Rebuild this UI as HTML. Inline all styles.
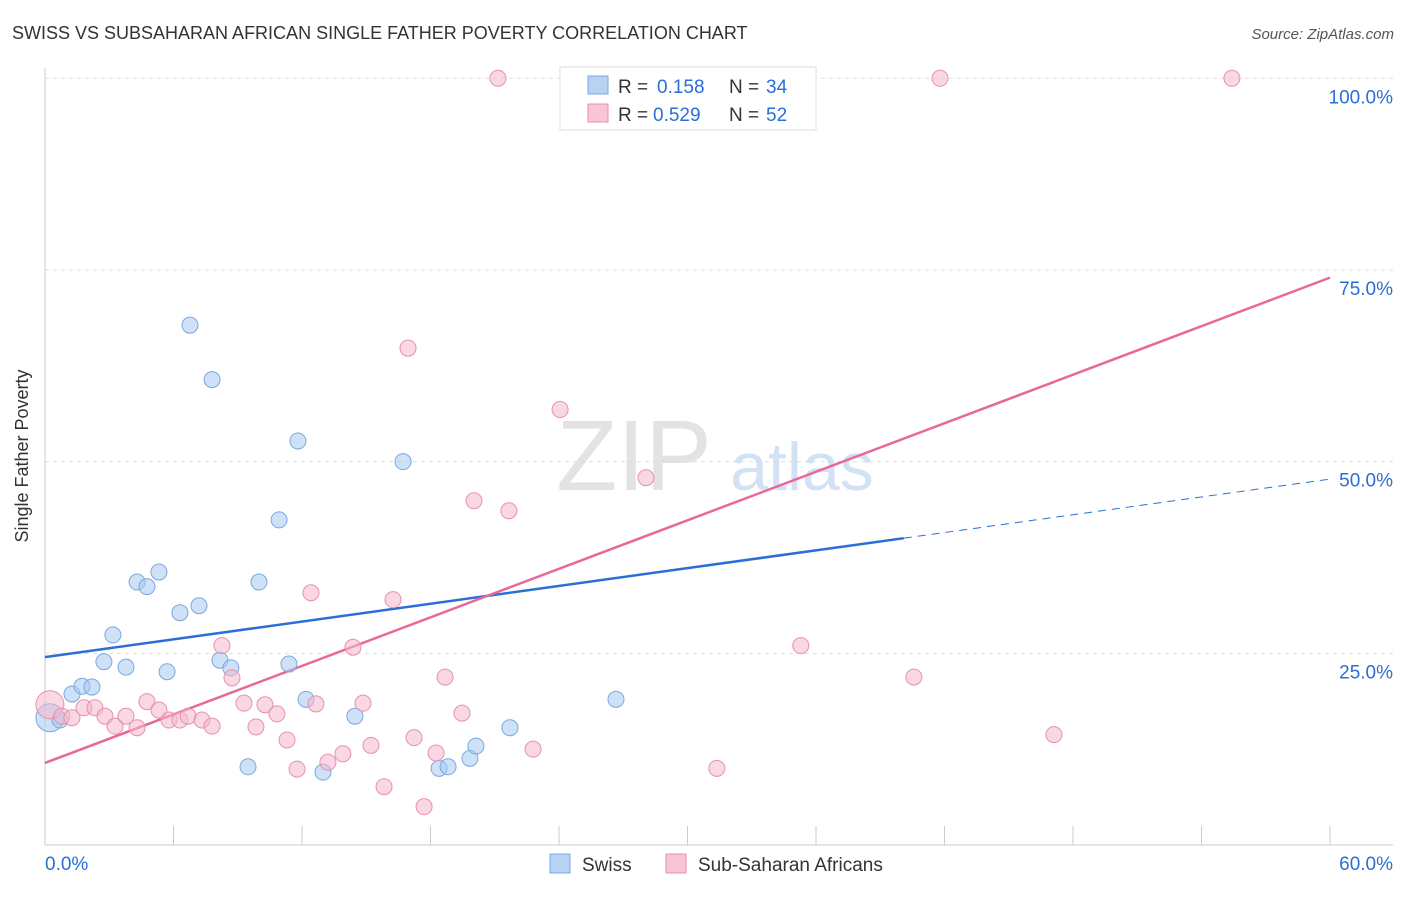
<!DOCTYPE html>
<html><head><meta charset="utf-8"><style>
body{margin:0;background:#fff;font-family:"Liberation Sans",sans-serif;}
svg text{font-family:"Liberation Sans",sans-serif;}
</style></head><body>
<svg width="1406" height="892" xmlns="http://www.w3.org/2000/svg">
<text x="12" y="39" font-size="18" fill="#333">SWISS VS SUBSAHARAN AFRICAN SINGLE FATHER POVERTY CORRELATION CHART</text>
<text x="1394" y="39" font-size="15" fill="#555" font-style="italic" text-anchor="end">Source: ZipAtlas.com</text>
<g><text x="634" y="490" font-size="100" fill="#ddd" font-family="Liberation Serif" text-anchor="middle" opacity="0.8">ZIP</text><text x="802" y="490" font-size="68" fill="#c8dcf2" text-anchor="middle" opacity="0.8">atlas</text></g>
<g id="grid"></g><g id="axes"></g><g id="trends"></g><g id="pts"></g>
<text x="28" y="456" font-size="18" fill="#333" text-anchor="middle" transform="rotate(-90 28 456)">Single Father Poverty</text>
<g>
<rect x="560" y="67" width="256" height="63" fill="#fff" stroke="#ddd"/>
<rect x="588" y="76" width="20" height="18" fill="#b8d2f4" stroke="#7aa8e0"/>
<rect x="588" y="104" width="20" height="18" fill="#f8c4d6" stroke="#e890b0"/>
<text x="618" y="93" font-size="19" fill="#333">R =</text>
<text x="657" y="93" font-size="19" fill="#2a6fd6">0.158</text>
<text x="729" y="93" font-size="19" fill="#333">N =</text>
<text x="766" y="93" font-size="19" fill="#2a6fd6">34</text>
<text x="618" y="121" font-size="19" fill="#333">R =</text>
<text x="653" y="121" font-size="19" fill="#2a6fd6">0.529</text>
<text x="729" y="121" font-size="19" fill="#333">N =</text>
<text x="766" y="121" font-size="19" fill="#2a6fd6">52</text>
</g>
<g>
<rect x="550" y="854" width="20" height="19" fill="#b8d2f4" stroke="#7aa8e0"/>
<text x="582" y="871" font-size="19" fill="#333">Swiss</text>
<rect x="666" y="854" width="20" height="19" fill="#f8c4d6" stroke="#e890b0"/>
<text x="698" y="871" font-size="19" fill="#333">Sub-Saharan Africans</text>
</g>
</svg>
<script>
const yTicks=[25,50,75,100];
const yTickLabels=["25.0%","50.0%","75.0%","100.0%"];
const xEndLabels=["0.0%","60.0%"];
const swissX=[0.23,0.70,1.26,1.73,2.19,2.75,3.17,3.78,4.30,4.76,5.32,5.70,6.30,6.77,7.19,7.80,8.17,8.68,9.48,9.99,10.93,11.39,11.81,12.19,12.98,14.47,16.72,18.40,18.82,19.84,20.12,21.71,26.66];
const swissY=[16.6,16.3,19.7,20.7,20.6,23.9,27.4,23.2,34.3,33.7,35.6,22.6,30.3,67.8,31.2,60.7,24.1,23.1,10.2,34.3,42.4,23.6,52.7,19.0,9.5,16.8,50.0,10.0,10.2,11.3,12.9,15.3,19.0];
const ssaX=[0.23,0.79,1.26,1.82,2.33,2.80,3.27,3.78,4.30,4.76,5.32,5.79,6.30,6.68,7.33,7.80,8.26,8.73,9.29,9.85,10.27,10.83,11.30,11.77,12.42,12.65,13.21,13.91,14.38,14.85,15.22,15.83,16.25,16.95,17.23,17.70,18.26,18.68,19.47,20.03,21.15,21.66,22.79,24.05,28.06,31.37,35.29,40.57,41.79,47.11,55.42];
const ssaY=[18.3,16.8,16.6,17.9,17.9,16.8,15.5,16.8,15.3,18.7,17.6,16.3,16.3,16.8,16.3,15.5,26.0,21.8,18.5,15.4,18.3,17.1,13.7,9.9,32.9,18.4,10.8,11.9,25.8,18.5,13.0,7.6,32.0,64.8,14.0,5.0,12.0,21.9,17.2,44.9,100,43.6,12.5,56.8,47.9,10.0,26.0,21.9,100,14.4,100];
const swissTrend=[24.5,0.387,40.1];
const ssaTrend=[10.7,1.055];
const NS="http://www.w3.org/2000/svg";
const X=v=>45+v/60*1285, Y=v=>845-v/100*766.7;
function mk(t,a,p){const e=document.createElementNS(NS,t);for(const k in a)e.setAttribute(k,a[k]);p.appendChild(e);return e;}
const grid=document.getElementById('grid'),axes=document.getElementById('axes'),tr=document.getElementById('trends'),pts=document.getElementById('pts');
yTicks.forEach((t,i)=>{const l=mk('line',{x1:45,x2:1393,y1:Y(t),y2:Y(t),stroke:'#ddd','stroke-dasharray':'4,4'},grid);

const tx=mk('text',{x:1393,y:Y(t)+25,'font-size':19,fill:'#2a6fd6','text-anchor':'end'},grid);tx.textContent=yTickLabels[i];
});
let a=mk('line',{x1:45,x2:45,y1:68,y2:845,stroke:'#ccc'},axes);
a=mk('line',{x1:45,x2:1393,y1:845,y2:845,stroke:'#ccc'},axes);
for(let i=0;i<=10;i++){const t=mk('line',{x1:X(i*6),x2:X(i*6),y1:826,y2:845,stroke:'#ccc'},axes);}
let t0=mk('text',{x:45,y:870,'font-size':19,fill:'#2a6fd6'},axes);t0.textContent=xEndLabels[0];
let t1=mk('text',{x:1393,y:870,'font-size':19,fill:'#2a6fd6','text-anchor':'end'},axes);t1.textContent=xEndLabels[1];
function draw(xs,ys,fill,stroke,name){xs.forEach((x,i)=>{const c=mk('circle',{cx:X(x),cy:Y(ys[i]),r:i==0?14:8,fill:fill,'fill-opacity':0.55,stroke:stroke,'stroke-width':1},pts);
});}
draw(swissX,swissY,'#a8c8f0','#7aa8e0','swiss-point');
draw(ssaX,ssaY,'#f4b8cc','#e890b0','subsaharan-point');
const sy=x=>swissTrend[0]+swissTrend[1]*x;
let l=mk('line',{x1:X(0),y1:Y(sy(0)),x2:X(swissTrend[2]),y2:Y(sy(swissTrend[2])),stroke:'#2a6fd6','stroke-width':2.5},tr);
l=mk('line',{x1:X(swissTrend[2]),y1:Y(sy(swissTrend[2])),x2:X(60),y2:Y(sy(60)),stroke:'#2a6fd6','stroke-width':1,'stroke-dasharray':'8,6'},tr);
const py=x=>ssaTrend[0]+ssaTrend[1]*x;
l=mk('line',{x1:X(0),y1:Y(py(0)),x2:X(60),y2:Y(py(60)),stroke:'#e8689a','stroke-width':2.5},tr);
</script>
</body></html>
